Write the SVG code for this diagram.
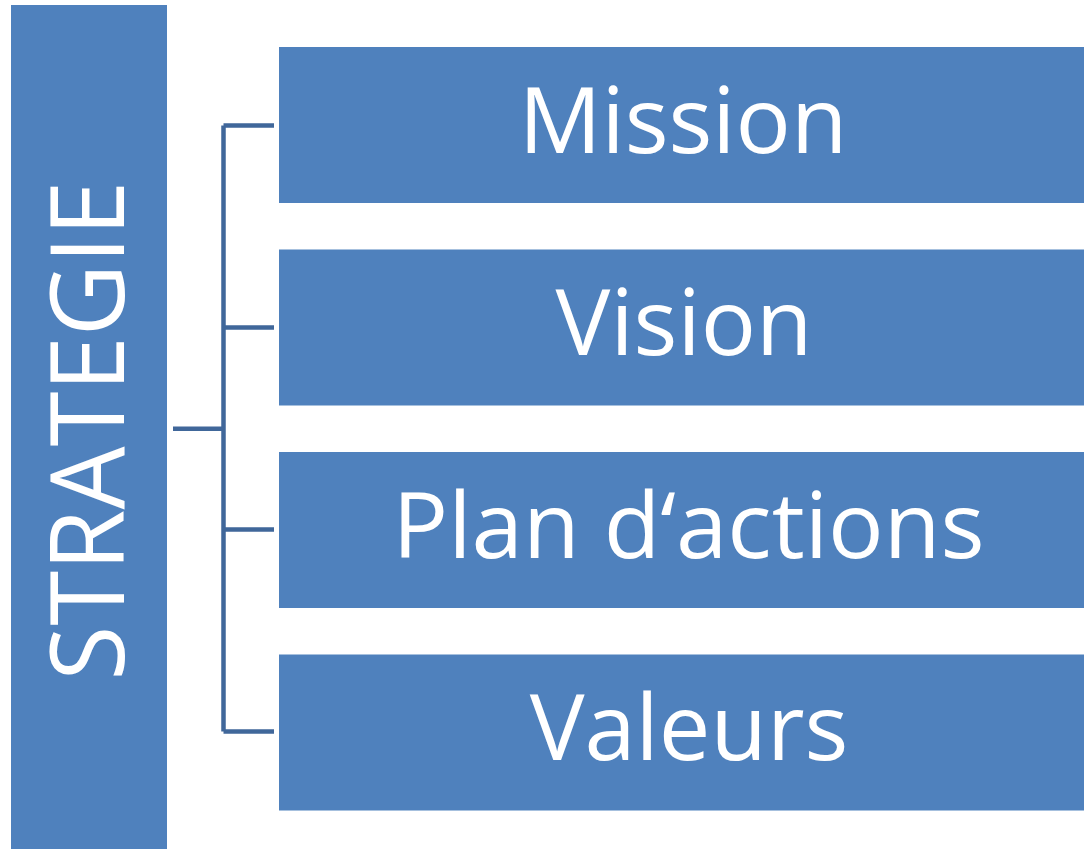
<svg xmlns="http://www.w3.org/2000/svg" width="1084" height="849" viewBox="0 0 1084 849">
<style>
.box{fill:#4F81BD;}
.lbl{font-family:"Open Sans","Liberation Sans",sans-serif;fill:#FFFFFF;font-size:92px;text-anchor:middle;}
.conn{fill:none;stroke:#40679A;stroke-width:4.5;}
</style>
<rect width="1084" height="849" fill="#FFFFFF"/>
<g id="connectors">
<path class="conn" d="M173 428.7H223.5M223.5 125.5V731.5M223.5 125.5H274M223.5 327.5H274M223.5 529.5H274M223.5 731.5H274"/>
</g>
<g id="strategie">
<rect class="box" x="11" y="5" width="156" height="844"/>
<text class="lbl" transform="translate(124 430.5) rotate(-90)" x="0" y="0" style="font-size:103px" textLength="500" lengthAdjust="spacingAndGlyphs">STRATEGIE</text>
</g>
<g id="mission">
<rect class="box" x="279" y="47" width="805" height="156"/>
<text class="lbl" x="683" y="152.5">Mission</text>
</g>
<g id="vision">
<rect class="box" x="279" y="249.5" width="805" height="156"/>
<text class="lbl" x="684" y="355">Vision</text>
</g>
<g id="plan">
<rect class="box" x="279" y="452" width="805" height="156"/>
<text class="lbl" x="688.5" y="557.5" textLength="592" lengthAdjust="spacingAndGlyphs">Plan d‘actions</text>
</g>
<g id="valeurs">
<rect class="box" x="279" y="654.5" width="805" height="156"/>
<text class="lbl" x="689" y="760">Valeurs</text>
</g>
</svg>
